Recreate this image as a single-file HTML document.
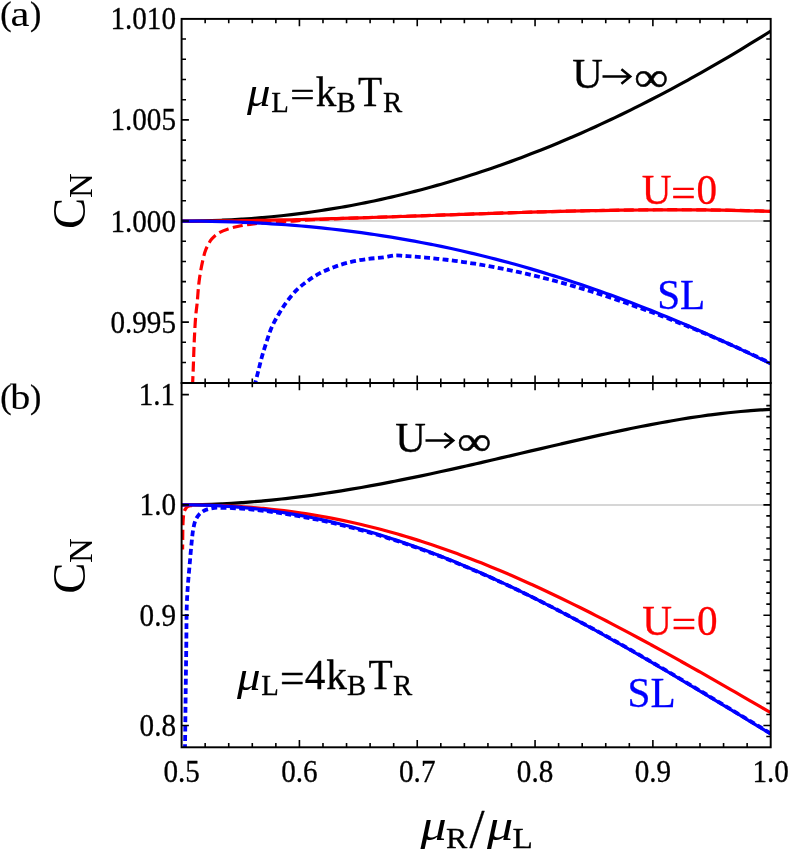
<!DOCTYPE html>
<html><head><meta charset="utf-8"><title>C_N plot</title>
<style>
html,body{margin:0;padding:0;background:#fff;}
body{width:789px;height:851px;overflow:hidden;font-family:"Liberation Serif",serif;}
svg{display:block;will-change:transform;}
text{font-family:"Liberation Serif",serif;}
</style></head><body>
<svg width="789" height="851" viewBox="0 0 789 851">
<rect width="789" height="851" fill="#fff"/>
<defs>
<clipPath id="ca"><rect x="181.60" y="18.90" width="589.10" height="364.00"/></clipPath>
<clipPath id="cb"><rect x="181.60" y="382.90" width="589.10" height="364.40"/></clipPath>
</defs>
<g stroke="#c8c8c8" stroke-width="1.5">
<line x1="181.60" y1="221.1" x2="770.70" y2="221.1"/>
<line x1="181.60" y1="504.9" x2="770.70" y2="504.9"/>
</g>
<g stroke-linecap="butt" stroke-linejoin="round">
<path d="M181.60 221.10 C184.93 221.08 188.26 221.08 191.58 221.05 C194.91 221.01 198.24 220.96 201.57 220.89 C204.90 220.82 208.23 220.73 211.55 220.63 C214.88 220.52 218.21 220.40 221.54 220.25 C224.87 220.11 228.20 219.95 231.52 219.77 C234.85 219.59 238.18 219.40 241.51 219.18 C244.84 218.97 248.17 218.74 251.49 218.49 C254.82 218.24 258.15 217.97 261.48 217.68 C264.81 217.39 268.14 217.09 271.46 216.76 C274.79 216.44 278.12 216.10 281.45 215.74 C284.78 215.38 288.11 215.00 291.43 214.60 C294.76 214.20 298.09 213.79 301.42 213.36 C304.75 212.92 308.07 212.47 311.40 212.00 C314.73 211.53 318.06 211.04 321.39 210.53 C324.72 210.02 328.04 209.49 331.37 208.95 C334.70 208.40 338.03 207.84 341.36 207.26 C344.69 206.67 348.01 206.07 351.34 205.45 C354.67 204.83 358.00 204.19 361.33 203.54 C364.66 202.88 367.98 202.20 371.31 201.51 C374.64 200.81 377.97 200.10 381.29 199.37 C384.63 198.63 387.95 197.88 391.28 197.12 C394.61 196.35 397.94 195.56 401.26 194.75 C404.59 193.94 407.92 193.12 411.25 192.28 C414.58 191.43 417.91 190.57 421.23 189.69 C424.56 188.80 427.89 187.90 431.22 186.99 C434.55 186.07 437.88 185.13 441.20 184.17 C444.53 183.22 447.86 182.24 451.19 181.25 C454.52 180.26 457.85 179.24 461.17 178.22 C464.50 177.18 467.83 176.14 471.16 175.07 C474.49 174.00 477.82 172.91 481.14 171.81 C484.47 170.71 487.80 169.58 491.13 168.44 C494.46 167.30 497.79 166.14 501.11 164.96 C504.44 163.78 507.77 162.59 511.10 161.37 C514.43 160.16 517.76 158.92 521.08 157.67 C524.41 156.42 527.74 155.15 531.07 153.86 C534.40 152.58 537.73 151.27 541.05 149.95 C544.38 148.62 547.71 147.28 551.04 145.92 C554.37 144.56 557.70 143.18 561.02 141.78 C564.35 140.39 567.68 138.97 571.01 137.54 C574.34 136.11 577.66 134.66 580.99 133.19 C584.32 131.72 587.65 130.24 590.97 128.74 C594.31 127.23 597.63 125.71 600.96 124.17 C604.29 122.63 607.62 121.08 610.94 119.50 C614.28 117.93 617.60 116.34 620.93 114.73 C624.26 113.12 627.59 111.50 630.91 109.85 C634.25 108.21 637.57 106.55 640.90 104.87 C644.23 103.19 647.56 101.50 650.88 99.79 C654.21 98.08 657.54 96.35 660.87 94.61 C664.20 92.86 667.53 91.10 670.85 89.32 C674.18 87.54 677.51 85.74 680.84 83.93 C684.17 82.12 687.50 80.29 690.82 78.45 C694.15 76.60 697.48 74.74 700.81 72.86 C704.14 70.98 707.47 69.09 710.79 67.18 C714.12 65.27 717.45 63.34 720.78 61.40 C724.11 59.46 727.44 57.50 730.76 55.53 C734.09 53.55 737.42 51.56 740.75 49.56 C744.08 47.55 747.41 45.53 750.73 43.49 C754.06 41.46 757.39 39.40 760.72 37.34 C764.05 35.27 767.37 33.17 770.70 31.09" fill="none" stroke="#000" stroke-width="3.20" clip-path="url(#ca)"/>
<path d="M181.60 221.10 C184.93 221.10 188.26 221.10 191.58 221.09 C194.91 221.08 198.24 221.07 201.57 221.05 C204.90 221.03 208.23 221.01 211.55 220.99 C214.88 220.96 218.21 220.93 221.54 220.90 C224.87 220.87 228.20 220.83 231.52 220.80 C234.85 220.76 238.18 220.71 241.51 220.67 C244.84 220.62 248.16 220.57 251.49 220.52 C254.82 220.46 258.15 220.41 261.48 220.35 C264.81 220.29 268.13 220.23 271.46 220.16 C274.79 220.10 278.12 220.03 281.45 219.96 C284.78 219.89 288.10 219.81 291.43 219.74 C294.76 219.66 298.09 219.58 301.42 219.50 C304.75 219.42 308.07 219.33 311.40 219.25 C314.73 219.16 318.06 219.07 321.39 218.98 C324.71 218.89 328.04 218.80 331.37 218.71 C334.70 218.61 338.03 218.52 341.36 218.42 C344.68 218.32 348.01 218.22 351.34 218.12 C354.67 218.02 358.00 217.92 361.33 217.81 C364.65 217.71 367.98 217.60 371.31 217.50 C374.64 217.39 377.97 217.28 381.29 217.17 C384.62 217.06 387.95 216.95 391.28 216.84 C394.61 216.73 397.94 216.62 401.26 216.51 C404.59 216.40 407.92 216.28 411.25 216.17 C414.58 216.06 417.91 215.94 421.23 215.83 C424.56 215.71 427.89 215.60 431.22 215.49 C434.55 215.37 437.88 215.26 441.20 215.14 C444.53 215.03 447.86 214.91 451.19 214.80 C454.52 214.69 457.84 214.57 461.17 214.46 C464.50 214.35 467.83 214.23 471.16 214.12 C474.49 214.01 477.81 213.90 481.14 213.79 C484.47 213.68 487.80 213.57 491.13 213.46 C494.46 213.35 497.78 213.24 501.11 213.14 C504.44 213.03 507.77 212.93 511.10 212.82 C514.42 212.72 517.75 212.62 521.08 212.52 C524.41 212.42 527.74 212.32 531.07 212.22 C534.39 212.12 537.72 212.03 541.05 211.94 C544.38 211.84 547.71 211.75 551.04 211.66 C554.36 211.57 557.69 211.49 561.02 211.40 C564.35 211.32 567.68 211.24 571.01 211.16 C574.33 211.08 577.66 211.01 580.99 210.93 C584.32 210.86 587.65 210.79 590.97 210.72 C594.30 210.66 597.63 210.59 600.96 210.53 C604.29 210.47 607.62 210.41 610.94 210.36 C614.27 210.31 617.60 210.26 620.93 210.21 C624.26 210.16 627.59 210.12 630.91 210.08 C634.24 210.04 637.57 210.01 640.90 209.98 C644.23 209.95 647.55 209.92 650.88 209.90 C654.21 209.88 657.54 209.86 660.87 209.85 C664.20 209.83 667.52 209.82 670.85 209.82 C674.18 209.82 677.51 209.82 680.84 209.83 C684.17 209.83 687.49 209.84 690.82 209.86 C694.15 209.88 697.48 209.90 700.81 209.93 C704.14 209.95 707.46 209.99 710.79 210.03 C714.12 210.07 717.45 210.11 720.78 210.16 C724.10 210.21 727.43 210.27 730.76 210.33 C734.09 210.39 737.42 210.46 740.75 210.54 C744.07 210.61 747.40 210.69 750.73 210.78 C754.06 210.87 757.39 210.97 760.72 211.07 C764.04 211.17 767.37 211.29 770.70 211.40" fill="none" stroke="#f00" stroke-width="3.20" clip-path="url(#ca)"/>
<path d="M192.50 386.00 C192.73 380.67 192.95 376.17 193.20 370.00 C193.54 361.56 193.84 349.54 194.30 340.00 C194.72 331.28 195.21 321.69 195.80 315.00 C196.19 310.49 196.66 308.07 197.10 303.70 C197.71 297.68 198.11 289.13 199.00 282.20 C199.84 275.65 200.92 269.02 202.20 263.20 C203.31 258.15 204.28 253.39 206.00 249.20 C207.54 245.45 209.50 241.85 211.70 239.10 C213.58 236.75 215.50 235.02 218.00 233.40 C220.87 231.54 224.56 230.14 228.20 228.90 C232.12 227.56 236.57 226.63 240.80 225.80 C245.01 224.97 248.98 224.44 253.50 223.90 C258.63 223.28 264.23 222.83 270.00 222.40 C276.34 221.93 284.14 221.65 290.00 221.27 C294.60 220.97 298.22 220.62 302.33 220.35 C306.43 220.09 310.54 219.87 314.65 219.66 C318.76 219.45 322.87 219.27 326.98 219.09 C331.09 218.92 335.19 218.76 339.30 218.60 C343.41 218.44 347.52 218.29 351.63 218.15 C355.74 218.00 359.85 217.86 363.95 217.71 C368.06 217.57 372.17 217.43 376.28 217.29 C380.39 217.14 384.50 217.00 388.61 216.86 C392.71 216.72 396.82 216.58 400.93 216.44 C405.04 216.30 409.15 216.15 413.26 216.01 C417.36 215.87 421.47 215.73 425.58 215.59 C429.69 215.44 433.80 215.30 437.91 215.16 C442.02 215.02 446.12 214.88 450.23 214.74 C454.34 214.59 458.45 214.45 462.56 214.31 C466.67 214.17 470.78 214.04 474.88 213.90 C478.99 213.76 483.10 213.62 487.21 213.49 C491.32 213.35 495.43 213.22 499.54 213.09 C503.64 212.96 507.75 212.83 511.86 212.70 C515.97 212.57 520.08 212.45 524.19 212.32 C528.30 212.20 532.40 212.08 536.51 211.96 C540.62 211.85 544.73 211.73 548.84 211.62 C552.95 211.51 557.06 211.40 561.16 211.30 C565.27 211.20 569.38 211.10 573.49 211.00 C577.60 210.91 581.71 210.82 585.82 210.73 C589.92 210.64 594.03 210.56 598.14 210.48 C602.25 210.41 606.36 210.33 610.47 210.27 C614.58 210.20 618.68 210.14 622.79 210.08 C626.90 210.03 631.01 209.98 635.12 209.93 C639.23 209.89 643.34 209.85 647.44 209.82 C651.55 209.79 655.66 209.77 659.77 209.75 C663.88 209.73 667.99 209.72 672.09 209.72 C676.20 209.72 680.31 209.72 684.42 209.73 C688.53 209.75 692.64 209.77 696.75 209.80 C700.85 209.82 704.96 209.86 709.07 209.91 C713.18 209.95 717.29 210.01 721.40 210.07 C725.51 210.13 729.61 210.21 733.72 210.29 C737.83 210.37 741.94 210.46 746.05 210.56 C750.16 210.67 754.27 210.78 758.37 210.90 C762.48 211.02 766.59 211.16 770.70 211.30" fill="none" stroke="#f00" stroke-width="3.20" stroke-dasharray="10 4.5" clip-path="url(#ca)"/>
<path d="M181.60 221.10 C184.93 221.11 188.26 221.11 191.58 221.13 C194.91 221.15 198.24 221.18 201.57 221.22 C204.90 221.27 208.23 221.32 211.55 221.38 C214.88 221.45 218.21 221.52 221.54 221.61 C224.87 221.69 228.20 221.79 231.52 221.90 C234.85 222.01 238.18 222.13 241.51 222.27 C244.84 222.40 248.17 222.54 251.49 222.70 C254.82 222.86 258.15 223.03 261.48 223.21 C264.81 223.39 268.13 223.59 271.46 223.80 C274.79 224.01 278.12 224.23 281.45 224.46 C284.78 224.69 288.10 224.94 291.43 225.20 C294.76 225.46 298.09 225.73 301.42 226.02 C304.75 226.31 308.07 226.61 311.40 226.92 C314.73 227.23 318.06 227.56 321.39 227.90 C324.72 228.24 328.04 228.60 331.37 228.97 C334.70 229.34 338.03 229.72 341.36 230.12 C344.69 230.51 348.01 230.93 351.34 231.35 C354.67 231.78 358.00 232.22 361.33 232.67 C364.65 233.13 367.98 233.60 371.31 234.08 C374.64 234.56 377.97 235.06 381.29 235.58 C384.62 236.09 387.95 236.62 391.28 237.16 C394.61 237.70 397.94 238.26 401.26 238.83 C404.59 239.41 407.92 239.99 411.25 240.60 C414.58 241.20 417.91 241.82 421.23 242.45 C424.56 243.08 427.89 243.73 431.22 244.39 C434.55 245.06 437.88 245.74 441.20 246.43 C444.53 247.12 447.86 247.83 451.19 248.56 C454.52 249.28 457.85 250.02 461.17 250.78 C464.50 251.53 467.83 252.30 471.16 253.09 C474.49 253.88 477.82 254.68 481.14 255.49 C484.47 256.31 487.80 257.14 491.13 257.99 C494.46 258.84 497.79 259.70 501.11 260.58 C504.44 261.46 507.77 262.35 511.10 263.26 C514.43 264.17 517.76 265.09 521.08 266.03 C524.41 266.97 527.74 267.93 531.07 268.90 C534.40 269.87 537.72 270.86 541.05 271.86 C544.38 272.86 547.71 273.88 551.04 274.91 C554.37 275.94 557.69 276.99 561.02 278.05 C564.35 279.11 567.68 280.19 571.01 281.28 C574.34 282.37 577.66 283.48 580.99 284.60 C584.32 285.73 587.65 286.86 590.97 288.02 C594.31 289.17 597.63 290.34 600.96 291.52 C604.29 292.70 607.62 293.90 610.94 295.11 C614.27 296.32 617.60 297.55 620.93 298.78 C624.26 300.03 627.59 301.28 630.91 302.55 C634.24 303.82 637.57 305.10 640.90 306.40 C644.23 307.70 647.56 309.01 650.88 310.34 C654.21 311.66 657.54 313.00 660.87 314.36 C664.20 315.71 667.53 317.08 670.85 318.46 C674.18 319.84 677.51 321.24 680.84 322.64 C684.17 324.05 687.50 325.47 690.82 326.91 C694.15 328.34 697.48 329.79 700.81 331.25 C704.14 332.71 707.47 334.19 710.79 335.67 C714.12 337.16 717.45 338.66 720.78 340.17 C724.11 341.69 727.44 343.21 730.76 344.75 C734.09 346.29 737.42 347.83 740.75 349.40 C744.08 350.96 747.40 352.53 750.73 354.11 C754.06 355.70 757.39 357.30 760.72 358.90 C764.05 360.51 767.37 362.14 770.70 363.76" fill="none" stroke="#00f" stroke-width="3.20" clip-path="url(#ca)"/>
<path d="M254.50 386.00 C254.87 384.53 255.15 383.38 255.60 381.60 C256.30 378.83 257.34 374.79 258.30 371.00 C259.41 366.61 260.57 361.52 261.90 356.80 C263.24 352.05 264.72 347.39 266.30 342.60 C267.94 337.63 269.49 332.30 271.60 327.50 C273.65 322.84 276.17 318.50 278.70 314.20 C281.20 309.94 283.76 305.77 286.70 301.80 C289.68 297.77 293.01 293.66 296.50 290.20 C299.83 286.90 303.34 284.16 307.10 281.40 C310.99 278.55 315.13 275.75 319.50 273.40 C323.98 271.00 328.92 269.00 333.70 267.20 C338.39 265.44 342.86 263.99 347.90 262.70 C353.46 261.28 359.75 260.08 365.70 259.20 C371.59 258.32 378.13 258.12 383.40 257.40 C387.68 256.82 391.42 255.62 395.00 255.41 C398.05 255.24 400.69 255.72 403.54 255.89 C406.39 256.07 409.23 256.26 412.08 256.47 C414.92 256.67 417.77 256.90 420.62 257.14 C423.46 257.38 426.31 257.64 429.15 257.91 C432.00 258.19 434.85 258.48 437.69 258.79 C440.54 259.10 443.39 259.42 446.23 259.76 C449.08 260.10 451.93 260.46 454.77 260.84 C457.62 261.21 460.46 261.60 463.31 262.01 C466.16 262.42 469.00 262.85 471.85 263.29 C474.70 263.73 477.54 264.19 480.39 264.67 C483.23 265.15 486.08 265.64 488.93 266.15 C491.77 266.66 494.62 267.19 497.46 267.73 C500.31 268.27 503.16 268.83 506.00 269.41 C508.85 269.99 511.70 270.58 514.54 271.19 C517.39 271.80 520.24 272.42 523.08 273.07 C525.93 273.71 528.77 274.37 531.62 275.04 C534.47 275.71 537.31 276.40 540.16 277.11 C543.00 277.82 545.85 278.54 548.70 279.28 C551.54 280.01 554.39 280.77 557.23 281.53 C560.08 282.30 562.93 283.09 565.77 283.88 C568.62 284.68 571.47 285.50 574.31 286.33 C577.16 287.16 580.01 288.00 582.85 288.86 C585.70 289.72 588.54 290.59 591.39 291.48 C594.24 292.37 597.08 293.27 599.93 294.19 C602.78 295.10 605.62 296.03 608.47 296.98 C611.31 297.92 614.16 298.88 617.00 299.85 C619.85 300.83 622.70 301.81 625.54 302.81 C628.39 303.81 631.24 304.83 634.08 305.85 C636.93 306.87 639.78 307.91 642.62 308.95 C645.47 309.99 648.31 311.02 651.16 312.08 C654.01 313.14 656.85 314.21 659.70 315.29 C662.55 316.37 665.39 317.46 668.24 318.57 C671.08 319.68 673.93 320.79 676.78 321.92 C679.62 323.05 682.47 324.20 685.31 325.35 C688.16 326.50 691.01 327.67 693.85 328.84 C696.70 330.02 699.55 331.21 702.39 332.41 C705.24 333.60 708.09 334.81 710.93 336.03 C713.78 337.25 716.62 338.49 719.47 339.73 C722.32 340.97 725.16 342.22 728.01 343.48 C730.85 344.75 733.70 346.02 736.55 347.30 C739.39 348.58 742.24 349.88 745.08 351.18 C747.93 352.48 750.78 353.79 753.62 355.12 C756.47 356.44 759.32 357.77 762.16 359.12 C765.01 360.48 767.85 361.87 770.70 363.24" fill="none" stroke="#00f" stroke-width="3.80" stroke-dasharray="5.9 3.4" clip-path="url(#ca)"/>
<path d="M181.60 504.80 C184.93 504.78 188.26 504.78 191.58 504.74 C194.91 504.70 198.24 504.64 201.57 504.55 C204.90 504.47 208.23 504.37 211.55 504.25 C214.88 504.13 218.21 503.99 221.54 503.83 C224.87 503.67 228.20 503.49 231.52 503.30 C234.85 503.10 238.18 502.88 241.51 502.65 C244.84 502.42 248.17 502.17 251.49 501.90 C254.82 501.63 258.15 501.34 261.48 501.04 C264.81 500.74 268.14 500.42 271.46 500.09 C274.79 499.75 278.12 499.40 281.45 499.03 C284.78 498.66 288.10 498.28 291.43 497.88 C294.76 497.48 298.09 497.07 301.42 496.64 C304.75 496.21 308.07 495.77 311.40 495.31 C314.73 494.85 318.06 494.38 321.39 493.90 C324.72 493.41 328.04 492.91 331.37 492.40 C334.70 491.89 338.03 491.36 341.36 490.83 C344.69 490.29 348.01 489.74 351.34 489.18 C354.67 488.62 358.00 488.04 361.33 487.46 C364.65 486.87 367.98 486.28 371.31 485.67 C374.64 485.06 377.97 484.44 381.29 483.82 C384.62 483.19 387.95 482.55 391.28 481.90 C394.61 481.26 397.94 480.60 401.26 479.93 C404.59 479.27 407.92 478.59 411.25 477.91 C414.58 477.22 417.91 476.53 421.23 475.83 C424.56 475.13 427.89 474.43 431.22 473.71 C434.55 473.00 437.88 472.28 441.20 471.55 C444.53 470.82 447.86 470.09 451.19 469.35 C454.52 468.61 457.85 467.87 461.17 467.12 C464.50 466.37 467.83 465.61 471.16 464.86 C474.49 464.10 477.81 463.33 481.14 462.57 C484.47 461.80 487.80 461.03 491.13 460.26 C494.46 459.49 497.78 458.71 501.11 457.93 C504.44 457.16 507.77 456.38 511.10 455.60 C514.42 454.82 517.75 454.04 521.08 453.26 C524.41 452.47 527.74 451.69 531.07 450.91 C534.39 450.13 537.72 449.35 541.05 448.57 C544.38 447.79 547.71 447.01 551.04 446.24 C554.36 445.46 557.69 444.69 561.02 443.92 C564.35 443.15 567.68 442.38 571.01 441.62 C574.33 440.86 577.66 440.10 580.99 439.34 C584.32 438.59 587.65 437.84 590.97 437.10 C594.30 436.36 597.63 435.62 600.96 434.89 C604.29 434.16 607.61 433.44 610.94 432.72 C614.27 432.01 617.60 431.30 620.93 430.61 C624.26 429.91 627.58 429.22 630.91 428.54 C634.24 427.87 637.57 427.20 640.90 426.54 C644.23 425.89 647.55 425.24 650.88 424.61 C654.21 423.98 657.54 423.36 660.87 422.75 C664.19 422.15 667.52 421.55 670.85 420.98 C674.18 420.40 677.51 419.84 680.84 419.29 C684.16 418.74 687.49 418.21 690.82 417.70 C694.15 417.19 697.48 416.69 700.81 416.22 C704.13 415.74 707.46 415.28 710.79 414.84 C714.12 414.41 717.45 413.99 720.78 413.59 C724.10 413.19 727.43 412.82 730.76 412.47 C734.09 412.11 737.42 411.78 740.75 411.48 C744.07 411.17 747.40 410.89 750.73 410.64 C754.06 410.38 757.39 410.15 760.72 409.95 C764.04 409.75 767.37 409.60 770.70 409.43" fill="none" stroke="#000" stroke-width="3.20" clip-path="url(#cb)"/>
<path d="M181.60 504.80 C184.93 504.82 188.26 504.81 191.58 504.85 C194.91 504.88 198.24 504.93 201.57 504.99 C204.90 505.06 208.23 505.14 211.55 505.24 C214.88 505.34 218.21 505.46 221.54 505.60 C224.87 505.74 228.20 505.90 231.52 506.08 C234.85 506.26 238.18 506.46 241.51 506.68 C244.84 506.90 248.17 507.14 251.49 507.41 C254.82 507.67 258.15 507.95 261.48 508.26 C264.81 508.57 268.14 508.90 271.46 509.25 C274.79 509.60 278.12 509.98 281.45 510.38 C284.78 510.78 288.11 511.20 291.43 511.64 C294.76 512.09 298.09 512.56 301.42 513.05 C304.75 513.54 308.08 514.06 311.40 514.60 C314.73 515.14 318.06 515.71 321.39 516.30 C324.72 516.89 328.05 517.50 331.37 518.14 C334.70 518.78 338.03 519.44 341.36 520.13 C344.69 520.81 348.01 521.53 351.34 522.26 C354.67 523.00 358.00 523.76 361.33 524.54 C364.66 525.33 367.98 526.13 371.31 526.97 C374.64 527.80 377.97 528.66 381.29 529.54 C384.63 530.42 387.95 531.32 391.28 532.25 C394.61 533.18 397.94 534.14 401.26 535.11 C404.60 536.09 407.92 537.09 411.25 538.11 C414.58 539.13 417.91 540.18 421.23 541.25 C424.57 542.32 427.89 543.41 431.22 544.52 C434.55 545.64 437.88 546.77 441.20 547.93 C444.54 549.09 447.86 550.27 451.19 551.47 C454.52 552.68 457.85 553.90 461.17 555.14 C464.50 556.39 467.83 557.66 471.16 558.94 C474.49 560.23 477.82 561.54 481.14 562.86 C484.47 564.19 487.80 565.54 491.13 566.90 C494.46 568.27 497.79 569.65 501.11 571.06 C504.44 572.46 507.77 573.89 511.10 575.33 C514.43 576.77 517.76 578.23 521.08 579.70 C524.41 581.18 527.74 582.67 531.07 584.18 C534.40 585.70 537.73 587.22 541.05 588.77 C544.38 590.31 547.71 591.87 551.04 593.45 C554.37 595.02 557.69 596.62 561.02 598.22 C564.35 599.83 567.68 601.45 571.01 603.08 C574.34 604.72 577.66 606.37 580.99 608.03 C584.32 609.69 587.65 611.37 590.97 613.05 C594.31 614.74 597.63 616.45 600.96 618.16 C604.29 619.87 607.62 621.60 610.94 623.33 C614.27 625.07 617.60 626.82 620.93 628.57 C624.26 630.33 627.59 632.10 630.91 633.88 C634.24 635.66 637.57 637.45 640.90 639.25 C644.23 641.05 647.56 642.85 650.88 644.67 C654.21 646.49 657.54 648.31 660.87 650.14 C664.20 651.97 667.53 653.82 670.85 655.66 C674.18 657.51 677.51 659.37 680.84 661.23 C684.17 663.09 687.50 664.96 690.82 666.83 C694.15 668.71 697.48 670.59 700.81 672.47 C704.14 674.36 707.46 676.25 710.79 678.15 C714.12 680.05 717.45 681.95 720.78 683.86 C724.11 685.76 727.43 687.68 730.76 689.59 C734.09 691.51 737.42 693.43 740.75 695.35 C744.07 697.27 747.40 699.20 750.73 701.13 C754.06 703.06 757.39 704.99 760.72 706.93 C764.04 708.86 767.37 710.80 770.70 712.74" fill="none" stroke="#f00" stroke-width="3.20" clip-path="url(#cb)"/>
<path d="M192.00 505.40 C190.67 505.73 189.10 505.79 188.00 506.40 C187.01 506.95 186.24 507.80 185.60 508.70 C184.94 509.63 184.47 510.63 184.10 511.90 C183.61 513.58 183.50 515.85 183.30 518.00 C183.08 520.39 183.01 522.36 182.90 525.60 C182.71 531.36 182.70 541.60 182.60 549.60" fill="none" stroke="#f00" stroke-width="3.20" stroke-dasharray="10 4.5" clip-path="url(#cb)"/>
<path d="M181.60 504.80 C184.93 504.82 188.26 504.82 191.58 504.87 C194.91 504.92 198.24 504.99 201.57 505.08 C204.90 505.18 208.23 505.30 211.55 505.44 C214.88 505.58 218.21 505.75 221.54 505.95 C224.87 506.14 228.20 506.36 231.52 506.61 C234.85 506.85 238.18 507.12 241.51 507.42 C244.84 507.72 248.17 508.04 251.49 508.39 C254.82 508.74 258.15 509.11 261.48 509.51 C264.81 509.91 268.14 510.34 271.46 510.79 C274.79 511.25 278.12 511.73 281.45 512.23 C284.78 512.74 288.11 513.27 291.43 513.83 C294.76 514.39 298.09 514.98 301.42 515.59 C304.75 516.20 308.08 516.84 311.40 517.50 C314.73 518.17 318.06 518.86 321.39 519.58 C324.72 520.30 328.05 521.04 331.37 521.81 C334.70 522.58 338.03 523.38 341.36 524.20 C344.69 525.02 348.02 525.87 351.34 526.74 C354.67 527.62 358.00 528.52 361.33 529.44 C364.66 530.37 367.99 531.32 371.31 532.29 C374.64 533.27 377.97 534.27 381.29 535.29 C384.63 536.32 387.95 537.37 391.28 538.44 C394.61 539.52 397.94 540.62 401.26 541.74 C404.60 542.86 407.92 544.01 411.25 545.18 C414.58 546.35 417.91 547.54 421.23 548.76 C424.57 549.98 427.89 551.22 431.22 552.48 C434.55 553.74 437.88 555.03 441.20 556.33 C444.54 557.64 447.86 558.97 451.19 560.32 C454.52 561.67 457.85 563.04 461.17 564.43 C464.50 565.83 467.83 567.24 471.16 568.67 C474.49 570.11 477.82 571.56 481.14 573.04 C484.47 574.51 487.80 576.01 491.13 577.52 C494.46 579.03 497.79 580.57 501.11 582.11 C504.44 583.67 507.77 585.24 511.10 586.82 C514.43 588.41 517.76 590.01 521.08 591.63 C524.41 593.26 527.74 594.90 531.07 596.55 C534.40 598.20 537.73 599.88 541.05 601.56 C544.38 603.25 547.71 604.95 551.04 606.67 C554.37 608.39 557.70 610.12 561.02 611.87 C564.35 613.61 567.68 615.38 571.01 617.15 C574.34 618.92 577.66 620.71 580.99 622.51 C584.32 624.31 587.65 626.13 590.97 627.95 C594.31 629.78 597.63 631.62 600.96 633.46 C604.29 635.31 607.62 637.17 610.94 639.04 C614.27 640.91 617.60 642.80 620.93 644.69 C624.26 646.58 627.59 648.48 630.91 650.39 C634.24 652.30 637.57 654.22 640.90 656.14 C644.23 658.07 647.56 660.00 650.88 661.95 C654.21 663.89 657.54 665.84 660.87 667.80 C664.20 669.75 667.53 671.72 670.85 673.69 C674.18 675.66 677.51 677.63 680.84 679.61 C684.17 681.59 687.49 683.58 690.82 685.57 C694.15 687.56 697.48 689.56 700.81 691.56 C704.14 693.56 707.46 695.56 710.79 697.57 C714.12 699.58 717.45 701.59 720.78 703.60 C724.11 705.61 727.43 707.63 730.76 709.64 C734.09 711.66 737.42 713.68 740.75 715.70 C744.07 717.72 747.40 719.74 750.73 721.77 C754.06 723.79 757.39 725.81 760.72 727.83 C764.04 729.86 767.37 731.88 770.70 733.90" fill="none" stroke="#00f" stroke-width="3.20" clip-path="url(#cb)"/>
<path d="M184.90 750.00 C184.93 749.00 184.96 748.63 185.00 747.00 C185.16 739.91 185.47 707.88 185.70 690.00 C185.90 674.11 186.11 659.56 186.30 645.00 C186.48 631.27 186.43 616.04 186.80 605.00 C187.06 597.19 187.43 591.65 187.90 585.00 C188.37 578.38 188.99 572.14 189.60 565.20 C190.28 557.49 191.08 547.52 191.80 540.80 C192.31 536.06 192.60 532.35 193.30 528.70 C193.89 525.62 194.42 522.80 195.50 520.30 C196.48 518.02 197.67 515.91 199.30 514.20 C200.96 512.47 203.05 511.05 205.40 510.00 C208.04 508.82 211.59 508.15 214.50 507.80 C217.10 507.49 219.32 507.77 222.00 507.80 C225.09 507.84 228.74 507.91 232.00 508.05 C235.11 508.19 238.09 508.39 241.13 508.61 C244.18 508.83 247.22 509.09 250.26 509.38 C253.31 509.67 256.35 509.99 259.39 510.33 C262.44 510.67 265.48 511.04 268.52 511.43 C271.57 511.83 274.61 512.25 277.65 512.69 C280.70 513.13 283.74 513.59 286.78 514.08 C289.83 514.56 292.87 515.07 295.91 515.61 C298.96 516.14 302.00 516.69 305.04 517.27 C308.09 517.85 311.13 518.45 314.17 519.07 C317.22 519.68 320.26 520.32 323.31 520.98 C326.35 521.64 329.39 522.30 332.44 523.00 C335.48 523.69 338.53 524.41 341.57 525.15 C344.61 525.89 347.66 526.65 350.70 527.43 C353.74 528.21 356.79 529.02 359.83 529.84 C362.87 530.66 365.92 531.51 368.96 532.38 C372.00 533.24 375.05 534.13 378.09 535.04 C381.13 535.95 384.18 536.88 387.22 537.83 C390.27 538.78 393.31 539.75 396.35 540.74 C399.40 541.73 402.44 542.74 405.48 543.77 C408.53 544.80 411.57 545.86 414.61 546.92 C417.66 548.00 420.70 549.09 423.74 550.19 C426.79 551.30 429.83 552.43 432.87 553.58 C435.92 554.73 438.96 555.89 442.00 557.08 C445.05 558.26 448.09 559.46 451.13 560.68 C454.18 561.90 457.22 563.14 460.26 564.40 C463.31 565.66 466.35 566.93 469.39 568.22 C472.44 569.51 475.48 570.82 478.52 572.14 C481.57 573.47 484.61 574.81 487.65 576.16 C490.70 577.52 493.74 578.90 496.78 580.28 C499.83 581.67 502.87 583.08 505.92 584.50 C508.96 585.92 512.01 587.35 515.05 588.80 C518.09 590.25 521.14 591.72 524.18 593.19 C527.22 594.67 530.27 596.17 533.31 597.67 C536.35 599.18 539.40 600.70 542.44 602.23 C545.48 603.76 548.53 605.31 551.57 606.86 C554.61 608.42 557.66 609.99 560.70 611.57 C563.74 613.16 566.79 614.75 569.83 616.36 C572.87 617.96 575.92 619.58 578.96 621.21 C582.01 622.84 585.05 624.47 588.09 626.12 C591.14 627.77 594.18 629.43 597.22 631.10 C600.27 632.77 603.31 634.45 606.35 636.13 C609.40 637.82 612.44 639.51 615.48 641.22 C618.53 642.93 621.57 644.65 624.61 646.38 C627.66 648.11 630.70 649.86 633.74 651.61 C636.79 653.36 639.83 655.12 642.87 656.89 C645.92 658.65 648.96 660.42 652.00 662.20 C655.05 663.98 658.09 665.76 661.13 667.55 C664.18 669.34 667.22 671.14 670.26 672.94 C673.31 674.74 676.35 676.54 679.39 678.35 C682.44 680.16 685.48 681.98 688.53 683.80 C691.57 685.62 694.61 687.44 697.66 689.27 C700.70 691.09 703.74 692.92 706.79 694.75 C709.83 696.59 712.87 698.42 715.92 700.26 C718.96 702.10 722.00 703.94 725.05 705.78 C728.09 707.63 731.13 709.47 734.18 711.32 C737.22 713.16 740.27 715.01 743.31 716.86 C746.35 718.70 749.40 720.55 752.44 722.40 C755.48 724.25 758.53 726.10 761.57 727.95 C764.61 729.80 767.66 731.65 770.70 733.50" fill="none" stroke="#00f" stroke-width="3.80" stroke-dasharray="5.9 3.4" clip-path="url(#cb)"/>
</g>
<path d="M205.16 18.90 V23.30 M205.16 378.50 V387.30 M205.16 747.30 V742.90 M228.73 18.90 V23.30 M228.73 378.50 V387.30 M228.73 747.30 V742.90 M252.29 18.90 V23.30 M252.29 378.50 V387.30 M252.29 747.30 V742.90 M275.86 18.90 V23.30 M275.86 378.50 V387.30 M275.86 747.30 V742.90 M299.42 18.90 V26.20 M299.42 375.60 V390.20 M299.42 747.30 V740.00 M322.98 18.90 V23.30 M322.98 378.50 V387.30 M322.98 747.30 V742.90 M346.55 18.90 V23.30 M346.55 378.50 V387.30 M346.55 747.30 V742.90 M370.11 18.90 V23.30 M370.11 378.50 V387.30 M370.11 747.30 V742.90 M393.68 18.90 V23.30 M393.68 378.50 V387.30 M393.68 747.30 V742.90 M417.24 18.90 V26.20 M417.24 375.60 V390.20 M417.24 747.30 V740.00 M440.80 18.90 V23.30 M440.80 378.50 V387.30 M440.80 747.30 V742.90 M464.37 18.90 V23.30 M464.37 378.50 V387.30 M464.37 747.30 V742.90 M487.93 18.90 V23.30 M487.93 378.50 V387.30 M487.93 747.30 V742.90 M511.50 18.90 V23.30 M511.50 378.50 V387.30 M511.50 747.30 V742.90 M535.06 18.90 V26.20 M535.06 375.60 V390.20 M535.06 747.30 V740.00 M558.62 18.90 V23.30 M558.62 378.50 V387.30 M558.62 747.30 V742.90 M582.19 18.90 V23.30 M582.19 378.50 V387.30 M582.19 747.30 V742.90 M605.75 18.90 V23.30 M605.75 378.50 V387.30 M605.75 747.30 V742.90 M629.32 18.90 V23.30 M629.32 378.50 V387.30 M629.32 747.30 V742.90 M652.88 18.90 V26.20 M652.88 375.60 V390.20 M652.88 747.30 V740.00 M676.44 18.90 V23.30 M676.44 378.50 V387.30 M676.44 747.30 V742.90 M700.01 18.90 V23.30 M700.01 378.50 V387.30 M700.01 747.30 V742.90 M723.57 18.90 V23.30 M723.57 378.50 V387.30 M723.57 747.30 V742.90 M747.14 18.90 V23.30 M747.14 378.50 V387.30 M747.14 747.30 V742.90 M181.60 39.02 H186.00 M770.70 39.02 H766.30 M181.60 59.24 H186.00 M770.70 59.24 H766.30 M181.60 79.46 H186.00 M770.70 79.46 H766.30 M181.60 99.68 H186.00 M770.70 99.68 H766.30 M181.60 119.90 H188.90 M770.70 119.90 H763.40 M181.60 140.12 H186.00 M770.70 140.12 H766.30 M181.60 160.34 H186.00 M770.70 160.34 H766.30 M181.60 180.56 H186.00 M770.70 180.56 H766.30 M181.60 200.78 H186.00 M770.70 200.78 H766.30 M181.60 221.00 H188.90 M770.70 221.00 H763.40 M181.60 241.22 H186.00 M770.70 241.22 H766.30 M181.60 261.44 H186.00 M770.70 261.44 H766.30 M181.60 281.66 H186.00 M770.70 281.66 H766.30 M181.60 301.88 H186.00 M770.70 301.88 H766.30 M181.60 322.10 H188.90 M770.70 322.10 H763.40 M181.60 342.32 H186.00 M770.70 342.32 H766.30 M181.60 362.54 H186.00 M770.70 362.54 H766.30 M181.60 394.60 H188.90 M181.60 504.89 H188.90 M181.60 615.18 H188.90 M181.60 725.47 H188.90 M770.70 394.60 H763.40 M770.70 405.63 H766.30 M770.70 416.66 H766.30 M770.70 427.69 H766.30 M770.70 438.72 H766.30 M770.70 449.75 H763.40 M770.70 460.77 H766.30 M770.70 471.80 H766.30 M770.70 482.83 H766.30 M770.70 493.86 H766.30 M770.70 504.89 H763.40 M770.70 515.92 H766.30 M770.70 526.95 H766.30 M770.70 537.98 H766.30 M770.70 549.01 H766.30 M770.70 560.04 H763.40 M770.70 571.06 H766.30 M770.70 582.09 H766.30 M770.70 593.12 H766.30 M770.70 604.15 H766.30 M770.70 615.18 H763.40 M770.70 626.21 H766.30 M770.70 637.24 H766.30 M770.70 648.27 H766.30 M770.70 659.30 H766.30 M770.70 670.33 H763.40 M770.70 681.35 H766.30 M770.70 692.38 H766.30 M770.70 703.41 H766.30 M770.70 714.44 H766.30 M770.70 725.47 H763.40 M770.70 736.50 H766.30" stroke="#000" stroke-width="1.60" fill="none"/>
<g stroke="#000" stroke-width="1.95" fill="none" stroke-linecap="square">
<rect x="181.60" y="18.90" width="589.10" height="728.40"/>
<line x1="181.60" y1="382.90" x2="770.70" y2="382.90"/>
</g>
<g>
<text transform="translate(176.00,29.30) scale(0.935,1.000)" font-size="31.20" fill="#000" text-anchor="end" stroke="#000" stroke-width="0.30" stroke-linejoin="round" >1.010</text>
<text transform="translate(176.00,130.40) scale(0.935,1.000)" font-size="31.20" fill="#000" text-anchor="end" stroke="#000" stroke-width="0.30" stroke-linejoin="round" >1.005</text>
<text transform="translate(176.00,231.50) scale(0.935,1.000)" font-size="31.20" fill="#000" text-anchor="end" stroke="#000" stroke-width="0.30" stroke-linejoin="round" >1.000</text>
<text transform="translate(176.00,332.60) scale(0.935,1.000)" font-size="31.20" fill="#000" text-anchor="end" stroke="#000" stroke-width="0.30" stroke-linejoin="round" >0.995</text>
<text transform="translate(175.20,405.10) scale(0.935,1.000)" font-size="31.20" fill="#000" text-anchor="end" stroke="#000" stroke-width="0.30" stroke-linejoin="round" >1.1</text>
<text transform="translate(176.00,515.39) scale(0.935,1.000)" font-size="31.20" fill="#000" text-anchor="end" stroke="#000" stroke-width="0.30" stroke-linejoin="round" >1.0</text>
<text transform="translate(176.00,625.68) scale(0.935,1.000)" font-size="31.20" fill="#000" text-anchor="end" stroke="#000" stroke-width="0.30" stroke-linejoin="round" >0.9</text>
<text transform="translate(176.00,735.97) scale(0.935,1.000)" font-size="31.20" fill="#000" text-anchor="end" stroke="#000" stroke-width="0.30" stroke-linejoin="round" >0.8</text>
<text transform="translate(181.60,781.70) scale(0.935,1.000)" font-size="31.20" fill="#000" text-anchor="middle" stroke="#000" stroke-width="0.30" stroke-linejoin="round" >0.5</text>
<text transform="translate(299.42,781.70) scale(0.935,1.000)" font-size="31.20" fill="#000" text-anchor="middle" stroke="#000" stroke-width="0.30" stroke-linejoin="round" >0.6</text>
<text transform="translate(417.24,781.70) scale(0.935,1.000)" font-size="31.20" fill="#000" text-anchor="middle" stroke="#000" stroke-width="0.30" stroke-linejoin="round" >0.7</text>
<text transform="translate(535.06,781.70) scale(0.935,1.000)" font-size="31.20" fill="#000" text-anchor="middle" stroke="#000" stroke-width="0.30" stroke-linejoin="round" >0.8</text>
<text transform="translate(652.88,781.70) scale(0.935,1.000)" font-size="31.20" fill="#000" text-anchor="middle" stroke="#000" stroke-width="0.30" stroke-linejoin="round" >0.9</text>
<text transform="translate(770.70,781.70) scale(0.935,1.000)" font-size="31.20" fill="#000" text-anchor="middle" stroke="#000" stroke-width="0.30" stroke-linejoin="round" >1.0</text>
<text x="0.20" y="25.30" font-size="34.00" fill="#000" text-anchor="start" stroke="#000" stroke-width="0.30" stroke-linejoin="round" >(</text>
<text transform="translate(10.40,26.00) scale(1.200,1.000)" font-size="35.50" fill="#000" text-anchor="start" stroke="#000" stroke-width="0.10" stroke-linejoin="round" >a</text>
<text x="30.10" y="25.30" font-size="34.00" fill="#000" text-anchor="start" stroke="#000" stroke-width="0.30" stroke-linejoin="round" >)</text>
<text x="0.20" y="408.30" font-size="34.00" fill="#000" text-anchor="start" stroke="#000" stroke-width="0.30" stroke-linejoin="round" >(</text>
<text transform="translate(10.30,409.00) scale(1.130,1.000)" font-size="35.50" fill="#000" text-anchor="start" stroke="#000" stroke-width="0.10" stroke-linejoin="round" >b</text>
<text x="30.10" y="408.30" font-size="34.00" fill="#000" text-anchor="start" stroke="#000" stroke-width="0.30" stroke-linejoin="round" >)</text>
<g transform="translate(85,229.50) rotate(-90)"><text x="0.6" y="0" font-size="46.8">C</text><text x="31.4" y="7.2" font-size="34.4">N</text></g>
<g transform="translate(85,594.30) rotate(-90)"><text x="0.6" y="0" font-size="46.8">C</text><text x="31.4" y="7.2" font-size="34.4">N</text></g>
<text transform="translate(247.00,106.00) scale(1.140,1.000)" font-size="41.20" fill="#000" text-anchor="start" font-style="italic" >μ</text>
<text x="271.30" y="112.00" font-size="28.80" fill="#000" text-anchor="start" stroke="#000" stroke-width="0.30" stroke-linejoin="round" >L</text>
<text transform="translate(290.20,107.40) scale(1.050,0.870)" font-size="41.20" fill="#000" text-anchor="start" stroke="#000" stroke-width="0.50" stroke-linejoin="round" >=</text>
<text x="315.70" y="106.00" font-size="41.20" fill="#000" text-anchor="start" stroke="#000" stroke-width="0.30" stroke-linejoin="round" >k</text>
<text x="336.40" y="112.00" font-size="28.80" fill="#000" text-anchor="start" stroke="#000" stroke-width="0.30" stroke-linejoin="round" >B</text>
<text transform="translate(358.00,106.00) scale(0.960,1.000)" font-size="41.20" fill="#000" text-anchor="start" stroke="#000" stroke-width="0.30" stroke-linejoin="round" >T</text>
<text x="383.10" y="112.00" font-size="28.80" fill="#000" text-anchor="start" stroke="#000" stroke-width="0.30" stroke-linejoin="round" >R</text>
<text transform="translate(236.90,689.70) scale(1.140,1.000)" font-size="41.20" fill="#000" text-anchor="start" font-style="italic" >μ</text>
<text x="261.20" y="695.20" font-size="28.80" fill="#000" text-anchor="start" stroke="#000" stroke-width="0.30" stroke-linejoin="round" >L</text>
<text transform="translate(280.10,692.00) scale(1.050,1.000)" font-size="41.20" fill="#000" text-anchor="start" stroke="#000" stroke-width="0.50" stroke-linejoin="round" >=</text>
<text x="304.80" y="688.70" font-size="41.20" fill="#000" text-anchor="start" stroke="#000" stroke-width="0.30" stroke-linejoin="round" >4</text>
<text x="326.30" y="688.70" font-size="41.20" fill="#000" text-anchor="start" stroke="#000" stroke-width="0.30" stroke-linejoin="round" >k</text>
<text x="347.00" y="695.20" font-size="28.80" fill="#000" text-anchor="start" stroke="#000" stroke-width="0.30" stroke-linejoin="round" >B</text>
<text transform="translate(368.60,688.70) scale(0.960,1.000)" font-size="41.20" fill="#000" text-anchor="start" stroke="#000" stroke-width="0.30" stroke-linejoin="round" >T</text>
<text x="392.90" y="695.20" font-size="28.80" fill="#000" text-anchor="start" stroke="#000" stroke-width="0.30" stroke-linejoin="round" >R</text>
<text transform="translate(572.30,88.00) scale(1.030,1.000)" font-size="41.20" fill="#000" text-anchor="start" stroke="#000" stroke-width="0.30" stroke-linejoin="round" >U</text>
<path d="M602.50 76.50 H629.50 M621.40 69.20 L630.30 76.50 L621.40 83.80" fill="none" stroke="#000" stroke-width="2.5" stroke-linejoin="miter" stroke-linecap="butt"/>
<text transform="translate(634.27,91.00) scale(1.160,1)" x="0" y="0" font-size="41.20" stroke="#000" stroke-width="0.5">∞</text>
<text transform="translate(395.30,452.10) scale(1.030,1.000)" font-size="41.20" fill="#000" text-anchor="start" stroke="#000" stroke-width="0.30" stroke-linejoin="round" >U</text>
<path d="M425.50 440.60 H452.50 M444.40 433.30 L453.30 440.60 L444.40 447.90" fill="none" stroke="#000" stroke-width="2.5" stroke-linejoin="miter" stroke-linecap="butt"/>
<text transform="translate(457.27,455.10) scale(1.160,1)" x="0" y="0" font-size="41.20" stroke="#000" stroke-width="0.5">∞</text>
<text x="641.70" y="203.90" font-size="41.20" fill="#f00" text-anchor="start" stroke="#f00" stroke-width="0.30" stroke-linejoin="round" >U</text>
<text transform="translate(671.30,206.40) scale(1.050,0.930)" font-size="41.20" fill="#f00" text-anchor="start" stroke="#f00" stroke-width="0.50" stroke-linejoin="round" >=</text>
<text x="696.50" y="203.90" font-size="41.20" fill="#f00" text-anchor="start" stroke="#f00" stroke-width="0.30" stroke-linejoin="round" >0</text>
<text x="642.20" y="634.50" font-size="41.20" fill="#f00" text-anchor="start" stroke="#f00" stroke-width="0.30" stroke-linejoin="round" >U</text>
<text transform="translate(671.80,637.00) scale(1.050,0.930)" font-size="41.20" fill="#f00" text-anchor="start" stroke="#f00" stroke-width="0.50" stroke-linejoin="round" >=</text>
<text x="697.00" y="634.50" font-size="41.20" fill="#f00" text-anchor="start" stroke="#f00" stroke-width="0.30" stroke-linejoin="round" >0</text>
<text x="657.20" y="309.40" font-size="41.20" fill="#00f" text-anchor="start" stroke="#00f" stroke-width="0.30" stroke-linejoin="round" >SL</text>
<text x="627.60" y="707.30" font-size="41.20" fill="#00f" text-anchor="start" stroke="#00f" stroke-width="0.30" stroke-linejoin="round" >SL</text>
<text transform="translate(420.40,839.90) scale(1.180,1.000)" font-size="44.30" fill="#000" text-anchor="start" font-style="italic" >μ</text>
<text transform="translate(445.90,848.20) scale(1.100,1.000)" font-size="29.00" fill="#000" text-anchor="start" stroke="#000" stroke-width="0.30" stroke-linejoin="round" >R</text>
<text transform="translate(469.60,847.00) scale(0.970,1.000)" font-size="55.70" fill="#000" text-anchor="start" stroke="#000" stroke-width="0.30" stroke-linejoin="round" >/</text>
<text transform="translate(487.00,839.90) scale(1.180,1.000)" font-size="44.30" fill="#000" text-anchor="start" font-style="italic" >μ</text>
<text transform="translate(512.40,848.20) scale(1.150,1.000)" font-size="29.00" fill="#000" text-anchor="start" stroke="#000" stroke-width="0.30" stroke-linejoin="round" >L</text>
</g>
</svg>
</body></html>
